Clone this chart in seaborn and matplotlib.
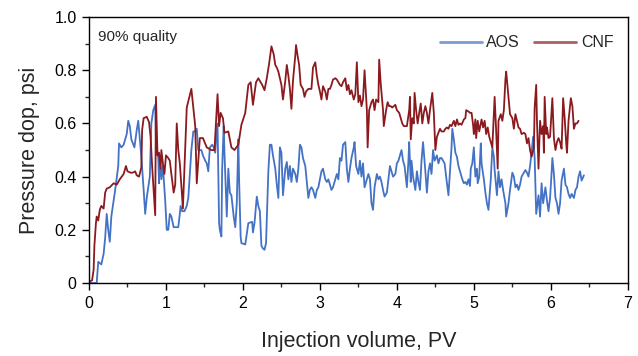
import matplotlib
matplotlib.use("Agg")
import matplotlib.pyplot as plt
from matplotlib.ticker import MultipleLocator, FuncFormatter
import seaborn as sns
import pandas as pd

aos_x = [0.0, 0.10, 0.12, 0.16, 0.19, 0.21, 0.23, 0.25, 0.27, 0.29, 0.32, 0.34, 0.38, 0.39, 0.42, 0.45,
         0.49, 0.51, 0.53, 0.55, 0.59, 0.62, 0.64, 0.66, 0.68, 0.71, 0.73, 0.75, 0.77, 0.79, 0.81, 0.835,
         0.86, 0.87, 0.90, 0.91, 0.92, 0.94, 0.96, 0.99, 1.01, 1.03, 1.05, 1.07, 1.10, 1.14, 1.16, 1.18,
         1.19, 1.21, 1.24, 1.27, 1.29, 1.31, 1.33, 1.355, 1.38, 1.40, 1.42, 1.44, 1.46, 1.48, 1.51, 1.53,
         1.55, 1.57, 1.60, 1.62, 1.64, 1.66, 1.67, 1.69, 1.70, 1.72, 1.73, 1.75, 1.76, 1.79, 1.81, 1.83,
         1.85, 1.88, 1.90, 1.92, 1.94, 1.95, 1.97, 1.98, 2.03, 2.07, 2.12, 2.13, 2.15, 2.18, 2.20, 2.22,
         2.24, 2.26, 2.28, 2.30, 2.33, 2.35, 2.37, 2.39, 2.42, 2.44, 2.46, 2.48, 2.50, 2.52, 2.55, 2.57,
         2.59, 2.61, 2.63, 2.65, 2.68, 2.70, 2.72, 2.74, 2.76, 2.78, 2.81, 2.83, 2.85, 2.87, 2.89, 2.91,
         2.94, 2.96, 2.98, 3.00, 3.02, 3.04, 3.07, 3.09, 3.11, 3.13, 3.15, 3.17, 3.20, 3.22, 3.24, 3.26,
         3.28, 3.30, 3.33, 3.35, 3.37, 3.39, 3.41, 3.44, 3.45, 3.47, 3.50, 3.52, 3.54, 3.56, 3.58, 3.61,
         3.63, 3.65, 3.67, 3.69, 3.71, 3.74, 3.76, 3.78, 3.80, 3.82, 3.84, 3.87, 3.89, 3.91, 3.93, 3.95,
         3.98, 4.00, 4.02, 4.04, 4.06, 4.08, 4.10, 4.13, 4.15, 4.16, 4.18, 4.19, 4.21, 4.24, 4.26, 4.28,
         4.30, 4.32, 4.34, 4.37, 4.39, 4.41, 4.43, 4.45, 4.47, 4.49, 4.52, 4.54, 4.56, 4.58, 4.60, 4.62,
         4.64, 4.67, 4.69, 4.71, 4.72, 4.74, 4.76, 4.78, 4.80, 4.82, 4.85, 4.87, 4.89, 4.91, 4.93, 4.95,
         4.96, 4.98, 5.00, 5.02, 5.04, 5.05, 5.07, 5.09, 5.10, 5.13, 5.15, 5.17, 5.19, 5.22, 5.24, 5.26,
         5.27, 5.30, 5.32, 5.34, 5.36, 5.38, 5.41, 5.42, 5.45, 5.47, 5.50, 5.52, 5.54, 5.56, 5.58, 5.60,
         5.62, 5.65, 5.67, 5.69, 5.71, 5.73, 5.75, 5.77, 5.79, 5.81, 5.84, 5.86, 5.88, 5.90, 5.93, 5.95,
         5.97, 5.99, 6.01, 6.02, 6.04, 6.06, 6.08, 6.10, 6.12, 6.14, 6.17, 6.19, 6.21, 6.23, 6.25, 6.27,
         6.30, 6.32, 6.34, 6.36, 6.38, 6.40, 6.43]
aos_y = [0.0, 0.0, 0.08, 0.07, 0.11, 0.17, 0.26, 0.20, 0.155, 0.25, 0.31, 0.35, 0.44, 0.525, 0.51, 0.52,
         0.56, 0.61, 0.59, 0.54, 0.51, 0.575, 0.61, 0.54, 0.475, 0.35, 0.26, 0.32, 0.36, 0.40, 0.60, 0.65,
         0.67, 0.53, 0.47, 0.375, 0.47, 0.39, 0.44, 0.31, 0.20, 0.20, 0.26, 0.25, 0.21, 0.21, 0.21, 0.26,
         0.29, 0.27, 0.27, 0.29, 0.32, 0.41, 0.50, 0.57, 0.57, 0.58, 0.50, 0.50, 0.50, 0.48, 0.46, 0.45,
         0.42, 0.51, 0.52, 0.51, 0.49, 0.575, 0.60, 0.225, 0.20, 0.175, 0.43, 0.59, 0.49, 0.25, 0.43, 0.34,
         0.33, 0.25, 0.21, 0.30, 0.54, 0.39, 0.175, 0.15, 0.145, 0.225, 0.23, 0.19, 0.225, 0.325, 0.29, 0.27,
         0.14, 0.13, 0.125, 0.15, 0.42, 0.52, 0.52, 0.48, 0.43, 0.37, 0.32, 0.51, 0.49, 0.33, 0.43, 0.455,
         0.39, 0.44, 0.38, 0.43, 0.41, 0.38, 0.43, 0.52, 0.51, 0.47, 0.44, 0.38, 0.32, 0.35, 0.36, 0.35,
         0.32, 0.35, 0.36, 0.39, 0.42, 0.43, 0.39, 0.38, 0.39, 0.37, 0.35, 0.36, 0.39, 0.41, 0.39, 0.47,
         0.46, 0.52, 0.53, 0.43, 0.38, 0.43, 0.47, 0.51, 0.53, 0.44, 0.41, 0.46, 0.40, 0.45, 0.36, 0.39,
         0.41, 0.39, 0.30, 0.275, 0.36, 0.41, 0.39, 0.40, 0.38, 0.35, 0.325, 0.34, 0.39, 0.44, 0.42, 0.40,
         0.41, 0.45, 0.46, 0.48, 0.50, 0.46, 0.44, 0.36, 0.46, 0.53, 0.38, 0.46, 0.40, 0.35, 0.42, 0.38,
         0.35, 0.46, 0.53, 0.42, 0.34, 0.42, 0.45, 0.41, 0.50, 0.46, 0.48, 0.45, 0.47, 0.47, 0.46, 0.45,
         0.40, 0.33, 0.42, 0.51, 0.58, 0.54, 0.49, 0.475, 0.44, 0.42, 0.39, 0.375, 0.38, 0.37, 0.39, 0.365,
         0.43, 0.45, 0.51, 0.40, 0.43, 0.375, 0.40, 0.525, 0.45, 0.39, 0.34, 0.30, 0.275, 0.39, 0.51, 0.475,
         0.425, 0.33, 0.42, 0.36, 0.39, 0.35, 0.30, 0.25, 0.30, 0.35, 0.415, 0.40, 0.36, 0.37, 0.35, 0.37,
         0.40, 0.415, 0.425, 0.415, 0.40, 0.44, 0.49, 0.55, 0.47, 0.26, 0.33, 0.25, 0.375, 0.30, 0.36, 0.31,
         0.27, 0.32, 0.415, 0.47, 0.41, 0.32, 0.30, 0.26, 0.30, 0.385, 0.43, 0.37, 0.36, 0.335, 0.32, 0.335,
         0.32, 0.35, 0.36, 0.40, 0.42, 0.385, 0.405]

cnf_x = [0.0, 0.04, 0.06, 0.07, 0.09, 0.10, 0.12, 0.14, 0.16, 0.19, 0.21, 0.23, 0.27, 0.32, 0.36, 0.40,
         0.45, 0.48, 0.50, 0.54, 0.57, 0.60, 0.62, 0.65, 0.68, 0.69, 0.71, 0.75, 0.78, 0.80, 0.82, 0.84,
         0.86, 0.87, 0.89, 0.91, 0.93, 0.94, 0.96, 0.98, 1.00, 1.03, 1.05, 1.07, 1.10, 1.12, 1.14, 1.16,
         1.18, 1.22, 1.27, 1.33, 1.38, 1.40, 1.44, 1.48, 1.53, 1.59, 1.63, 1.67, 1.69, 1.71, 1.74, 1.76,
         1.81, 1.85, 1.89, 1.94, 1.98, 2.03, 2.07, 2.10, 2.13, 2.17, 2.20, 2.25, 2.28, 2.31, 2.34, 2.37,
         2.40, 2.42, 2.44, 2.46, 2.48, 2.50, 2.52, 2.55, 2.57, 2.59, 2.61, 2.63, 2.65, 2.68, 2.69, 2.71,
         2.73, 2.75, 2.78, 2.80, 2.82, 2.85, 2.89, 2.91, 2.94, 2.96, 2.98, 3.00, 3.02, 3.04, 3.07, 3.09,
         3.11, 3.13, 3.15, 3.17, 3.20, 3.22, 3.24, 3.26, 3.28, 3.30, 3.33, 3.35, 3.37, 3.39, 3.41, 3.44,
         3.46, 3.48, 3.50, 3.52, 3.54, 3.56, 3.58, 3.61, 3.62, 3.64, 3.67, 3.69, 3.71, 3.73, 3.76, 3.77,
         3.79, 3.82, 3.83, 3.86, 3.88, 3.90, 3.92, 3.94, 3.96, 3.98, 4.00, 4.03, 4.05, 4.07, 4.09, 4.11,
         4.13, 4.16, 4.17, 4.18, 4.20, 4.22, 4.23, 4.25, 4.27, 4.29, 4.31, 4.33, 4.35, 4.37, 4.39, 4.41,
         4.43, 4.46, 4.48, 4.50, 4.52, 4.54, 4.56, 4.58, 4.61, 4.63, 4.65, 4.67, 4.69, 4.71, 4.74, 4.76,
         4.78, 4.80, 4.82, 4.84, 4.87, 4.89, 4.90, 4.93, 4.95, 4.97, 4.99, 5.00, 5.02, 5.03, 5.05, 5.07,
         5.10, 5.12, 5.14, 5.16, 5.18, 5.20, 5.23, 5.24, 5.27, 5.29, 5.31, 5.32, 5.35, 5.37, 5.39, 5.41,
         5.42, 5.45, 5.47, 5.50, 5.52, 5.54, 5.56, 5.58, 5.60, 5.62, 5.65, 5.67, 5.69, 5.71, 5.73, 5.75,
         5.78, 5.79, 5.81, 5.82, 5.84, 5.86, 5.88, 5.90, 5.91, 5.92, 5.94, 5.95, 5.97, 5.99, 6.02, 6.04,
         6.06, 6.08, 6.10, 6.12, 6.14, 6.16, 6.18, 6.20, 6.21, 6.23, 6.26, 6.28, 6.30, 6.32, 6.34, 6.36]
cnf_y = [0.005, 0.01, 0.05, 0.14, 0.225, 0.25, 0.235, 0.275, 0.29, 0.28, 0.34, 0.355, 0.36, 0.375, 0.37, 0.39,
         0.41, 0.44, 0.42, 0.415, 0.415, 0.42, 0.405, 0.40, 0.435, 0.575, 0.62, 0.625, 0.605, 0.55, 0.44, 0.35,
         0.255, 0.70, 0.48, 0.49, 0.43, 0.50, 0.45, 0.41, 0.48, 0.47, 0.46, 0.41, 0.34, 0.37, 0.60, 0.50,
         0.45, 0.28, 0.66, 0.73, 0.59, 0.375, 0.545, 0.545, 0.51, 0.50, 0.50, 0.71, 0.59, 0.64, 0.62, 0.565,
         0.57, 0.51, 0.50, 0.52, 0.595, 0.64, 0.745, 0.755, 0.67, 0.755, 0.77, 0.745, 0.725, 0.77, 0.825, 0.89,
         0.86, 0.82, 0.81, 0.795, 0.77, 0.745, 0.69, 0.76, 0.82, 0.78, 0.73, 0.655, 0.76, 0.855, 0.895, 0.855,
         0.82, 0.745, 0.73, 0.70, 0.72, 0.73, 0.73, 0.81, 0.83, 0.78, 0.745, 0.72, 0.69, 0.74, 0.72, 0.69,
         0.73, 0.73, 0.745, 0.765, 0.77, 0.765, 0.755, 0.745, 0.74, 0.755, 0.77, 0.725, 0.745, 0.71, 0.725, 0.69,
         0.71, 0.83, 0.68, 0.705, 0.665, 0.69, 0.80, 0.65, 0.51, 0.65, 0.68, 0.69, 0.65, 0.69, 0.68, 0.84,
         0.75, 0.65, 0.59, 0.65, 0.68, 0.665, 0.665, 0.66, 0.665, 0.67, 0.65, 0.64, 0.62, 0.60, 0.59, 0.59,
         0.59, 0.65, 0.70, 0.54, 0.62, 0.60, 0.715, 0.65, 0.60, 0.64, 0.675, 0.60, 0.64, 0.665, 0.64, 0.60,
         0.65, 0.715, 0.64, 0.50, 0.55, 0.565, 0.58, 0.57, 0.57, 0.58, 0.585, 0.58, 0.595, 0.59, 0.61, 0.59,
         0.615, 0.595, 0.60, 0.595, 0.615, 0.62, 0.65, 0.645, 0.64, 0.64, 0.595, 0.56, 0.615, 0.545, 0.61, 0.57,
         0.615, 0.585, 0.61, 0.56, 0.585, 0.55, 0.52, 0.51, 0.70, 0.57, 0.43, 0.61, 0.635, 0.61, 0.65, 0.765,
         0.795, 0.70, 0.635, 0.62, 0.58, 0.635, 0.61, 0.585, 0.58, 0.56, 0.565, 0.56, 0.525, 0.545, 0.50, 0.475,
         0.51, 0.66, 0.745, 0.61, 0.43, 0.61, 0.56, 0.59, 0.49, 0.70, 0.56, 0.585, 0.545, 0.55, 0.695, 0.545,
         0.50, 0.53, 0.545, 0.53, 0.505, 0.695, 0.62, 0.525, 0.49, 0.61, 0.695, 0.665, 0.58, 0.60, 0.60, 0.61]

series_names = ["AOS", "CNF"]
x_label = "Injection volume, PV"
y_label = "Pressure dop, psi"
note = "90% quality"

df = pd.concat([
    pd.DataFrame({"pv": aos_x, "dp": aos_y, "series": series_names[0]}),
    pd.DataFrame({"pv": cnf_x, "dp": cnf_y, "series": series_names[1]}),
], ignore_index=True)

sns.set_style("ticks")
plt.rcParams["font.family"] = ["Liberation Sans", "DejaVu Sans"]

fig = plt.figure(figsize=(6.38, 3.56), dpi=100)
ax = fig.add_axes([0.1395, 0.205, 0.8445, 0.747])

palette = {"AOS": "#4472C4", "CNF": "#8B1A1F"}
sns.lineplot(data=df, x="pv", y="dp", hue="series", palette=palette,
             estimator=None, sort=False, linewidth=1.3, ax=ax, legend=True)

ax.set_xlim(0, 7)
ax.set_ylim(0, 1.0)
ax.xaxis.set_major_locator(MultipleLocator(1))
ax.xaxis.set_minor_locator(MultipleLocator(0.5))
ax.yaxis.set_major_locator(MultipleLocator(0.2))
ax.yaxis.set_minor_locator(MultipleLocator(0.1))
ax.xaxis.set_major_formatter(FuncFormatter(lambda v, p: f"{int(round(v))}"))
ax.yaxis.set_major_formatter(FuncFormatter(lambda v, p: "0" if abs(v) < 1e-9 else f"{v:.1f}"))
ax.tick_params(axis="both", which="major", direction="out", length=5, width=1.0,
               labelsize=11.5, colors="black", pad=4)
ax.tick_params(axis="both", which="minor", direction="out", length=3, width=1.0)
ax.tick_params(top=False, right=False, which="both")
for s in ax.spines.values():
    s.set_visible(True)
    s.set_color("black")
    s.set_linewidth(1.0)

ax.set_xlabel(x_label, fontsize=15.5, labelpad=15)
ax.set_ylabel(y_label, fontsize=15.5, labelpad=10)

ax.text(0.017, 0.925, note, transform=ax.transAxes, fontsize=11, va="center", ha="left")

handles, labels = ax.get_legend_handles_labels()
for h in handles:
    h.set_linewidth(2.0)
    h.set_alpha(0.7)
ax.legend(handles, labels, ncol=2, frameon=False, loc="upper right",
          bbox_to_anchor=(1.0, 0.985), fontsize=11.5, handlelength=2.6,
          columnspacing=0.9, handletextpad=0.3)

fig.savefig("out.png", dpi=100)
